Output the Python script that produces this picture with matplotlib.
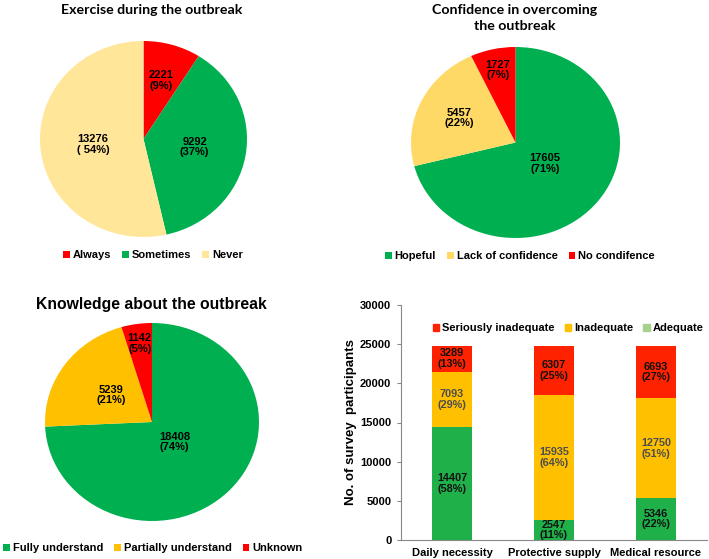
import matplotlib
matplotlib.use("Agg")
from matplotlib import pyplot as plt
from matplotlib.patches import Patch
import numpy as np

plt.rcParams["font.family"] = ["Liberation Sans", "DejaVu Sans"]
plt.rcParams["font.weight"] = "bold"

W, H = 709, 559

# ---- data ----
exercise_labels = ["Always", "Sometimes", "Never"]
exercise_counts = [2221, 9292, 13276]
exercise_pcts = ["(9%)", "(37%)", "( 54%)"]

confidence_labels = ["Hopeful", "Lack of confidence", "No condifence"]
confidence_counts = [17605, 5457, 1727]
confidence_pcts = ["(71%)", "(22%)", "(7%)"]

knowledge_labels = ["Fully understand", "Partially understand", "Unknown"]
knowledge_counts = [18408, 5239, 1142]
knowledge_pcts = ["(74%)", "(21%)", "(5%)"]

supply_cats = ["Daily necessity", "Protective supply", "Medical resource"]
adequate = [14407, 2547, 5346]
inadequate = [7093, 15935, 12750]
serious = [3289, 6307, 6693]
adequate_pct = ["(58%)", "(11%)", "(22%)"]
inadequate_pct = ["(29%)", "(64%)", "(51%)"]
serious_pct = ["(13%)", "(25%)", "(27%)"]

RED = "#FF0000"
GREEN = "#00B050"


def px_axes(fig, cx, cy, rx, ry):
    # axes box in pixel units (top-left origin)
    return fig.add_axes([(cx - rx) / W, 1 - (cy + ry) / H, 2 * rx / W, 2 * ry / H])


def pie_panel(fig, cx, cy, rx, ry, counts, pcts, colors, dists, fs=8):
    ax = px_axes(fig, cx, cy, rx, ry)
    wedges, _ = ax.pie(counts, colors=colors, startangle=90, counterclock=False,
                       radius=1, wedgeprops=dict(linewidth=0))
    ax.set_aspect("auto")
    ax.set_xlim(-1, 1)
    ax.set_ylim(-1, 1)
    for w, c, p, d in zip(wedges, counts, pcts, dists):
        ang = np.deg2rad((w.theta1 + w.theta2) / 2)
        ax.text(d * np.cos(ang), d * np.sin(ang), f"{c}\n{p}", ha="center",
                va="center", fontsize=fs, fontweight="bold", linespacing=1.05)
    return ax, wedges


def pie_legend(ax, wedges, labels, x, y, fs=8):
    ax.legend(wedges, labels, loc="center", bbox_to_anchor=(x / W, 1 - y / H),
              bbox_transform=ax.figure.transFigure, ncol=3, frameon=False,
              handlelength=0.6, handleheight=0.6, handletextpad=0.25,
              columnspacing=1.0, prop=dict(size=fs, weight="bold"))


fig = plt.figure(figsize=(W / 100, H / 100), dpi=100)

# ---- panel 1 ----
ax1, w1 = pie_panel(fig, 143.5, 139, 103.5, 98, exercise_counts, exercise_pcts,
                    [RED, GREEN, "#FFE699"], [0.62, 0.5, 0.49])
fig.text(152 / W, 1 - 10 / H, "Exercise during the outbreak", ha="center",
         va="center", fontsize=10.2, fontweight="bold", family="Lato")
pie_legend(ax1, w1, exercise_labels, 153, 255)

# ---- panel 2 ----
ax2, w2 = pie_panel(fig, 515.5, 142.5, 104.5, 95.5, confidence_counts, confidence_pcts,
                    [GREEN, "#FFD966", RED], [0.36, 0.6, 0.78])
fig.text(515 / W, 1 - 18 / H, "Confidence in overcoming\nthe outbreak", ha="center",
         va="center", fontsize=10.2, fontweight="bold", family="Lato", linespacing=1.45)
pie_legend(ax2, w2, confidence_labels, 520, 256)

# ---- panel 3 ----
ax3, w3 = pie_panel(fig, 152, 422, 107, 99, knowledge_counts, knowledge_pcts,
                    [GREEN, "#FFC000", RED], [0.29, 0.47, 0.8])
fig.text(151 / W, 1 - 305 / H, "Knowledge about the outbreak", ha="center",
         va="center", fontsize=11.3, fontweight="bold")
pie_legend(ax3, w3, knowledge_labels, 153, 548)

# ---- panel 4 ----
ax4 = fig.add_axes([401 / W, 1 - 540 / H, 306 / W, 235 / H])
x = np.arange(len(supply_cats))
bw = 0.4
bar_green, bar_yellow, bar_red = "#1FB04A", "#FFC000", "#FF2200"
b1 = ax4.bar(x, adequate, bw, color=bar_green)
b2 = ax4.bar(x, inadequate, bw, bottom=adequate, color=bar_yellow)
bottom2 = np.array(adequate) + np.array(inadequate)
b3 = ax4.bar(x, serious, bw, bottom=bottom2, color=bar_red)

for vals, pcts, bots, col in [
        (adequate, adequate_pct, np.zeros(3), "#111111"),
        (inadequate, inadequate_pct, np.array(adequate), "#4d4d4d"),
        (serious, serious_pct, bottom2, "#111111")]:
    for xi, v, p, b in zip(x, vals, pcts, bots):
        ax4.text(xi, b + v / 2, f"{v}\n{p}", ha="center", va="center",
                 fontsize=7.8, fontweight="bold", color=col, linespacing=1.1)

ax4.set_xlim(-0.5, 2.5)
ax4.set_ylim(0, 30000)
ax4.set_yticks(np.arange(0, 30001, 5000))
ax4.set_xticks(x)
ax4.set_xticklabels(supply_cats, fontsize=8, fontweight="bold")
ax4.tick_params(axis="y", labelsize=8, length=3, color="#888888", pad=4)
ax4.tick_params(axis="x", length=0, pad=6)
for s in ["top", "right"]:
    ax4.spines[s].set_visible(False)
for s in ["left", "bottom"]:
    ax4.spines[s].set_color("#888888")
    ax4.spines[s].set_linewidth(0.8)
ax4.set_ylabel("No. of survey  participants", fontsize=9.5, fontweight="bold", labelpad=2)

handles = [Patch(color=bar_red), Patch(color=bar_yellow), Patch(color="#A9D18E")]
ax4.legend(handles, ["Seriously inadequate", "Inadequate", "Adequate"], loc="center",
           bbox_to_anchor=(568 / W, 1 - 328 / H), bbox_transform=fig.transFigure,
           ncol=3, frameon=False, handlelength=0.6, handleheight=0.6,
           handletextpad=0.25, columnspacing=0.9, prop=dict(size=8, weight="bold"))

fig.savefig("out.png", dpi=100)
